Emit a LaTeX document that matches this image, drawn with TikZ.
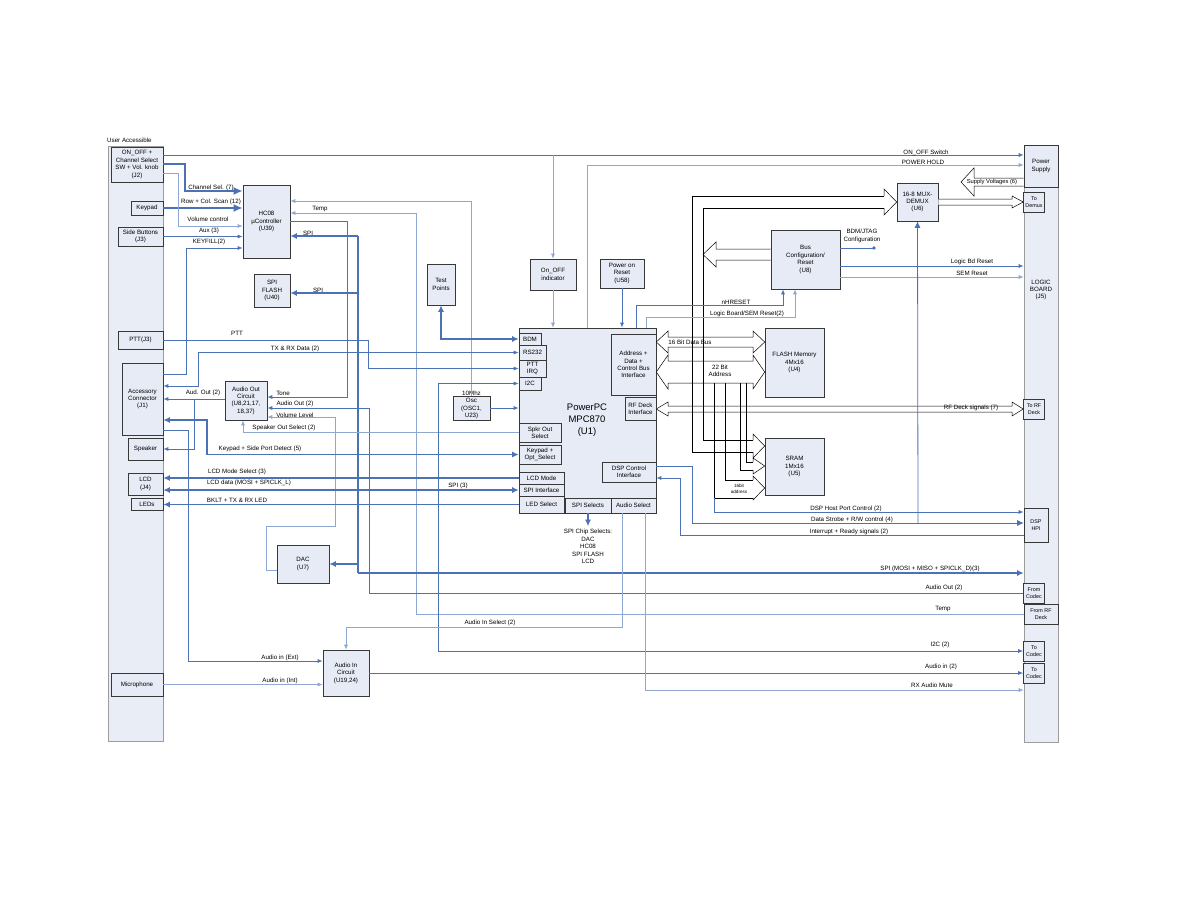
\documentclass[tikz,border=0pt]{standalone}
\usepackage{fontspec}
\setmainfont{Liberation Sans}
\usepackage{tikz}
\usetikzlibrary{arrows.meta}
\definecolor{sigdark}{HTML}{4A72B5}
\definecolor{siglight}{HTML}{8EA7D3}
\definecolor{boxfill}{HTML}{E6EBF5}
\definecolor{panelfill}{HTML}{E9EDF6}
\definecolor{edge}{HTML}{383838}
\definecolor{paneledge}{HTML}{9C9C9C}

\begin{document}
\begin{tikzpicture}[x=1pt,y=-1pt,
  every node/.style={font=\fontsize{6.2}{7.4}\selectfont},
  blk/.style={draw=edge,fill=boxfill,line width=0.6pt,align=center,inner sep=0pt},
  port/.style={blk,font=\fontsize{5.4}{6.8}\selectfont},
  panel/.style={draw=paneledge,fill=panelfill,line width=0.6pt,inner sep=0pt},
  lbl/.style={inner sep=0pt,align=center},
  sig/.style={draw=sigdark,line width=0.8pt},
  lsig/.style={draw=siglight,line width=0.7pt},
  bus/.style={draw=sigdark,line width=1.5pt},
  fat/.style={draw=sigdark,line width=2.8pt},
  hollow/.style={draw=black,line width=0.5pt,fill=white},
  busline/.style={draw=black,line width=0.5pt},
  tip/.style={-{Latex[length=5pt,width=4pt]}},
  tips/.style={{Latex[length=5pt,width=4pt]}-{Latex[length=5pt,width=4pt]}},
  midtip/.style={-{Latex[length=6.5pt,width=6pt]}},
  midtips/.style={{Latex[length=6.5pt,width=6pt]}-{Latex[length=6.5pt,width=6pt]}},
  bigtip/.style={-{Latex[length=9pt,width=8pt]}},
]
\fill[white] (0,0) rectangle (1188,918);
\useasboundingbox (0,0) rectangle (1188,918);

% user side
\node[panel,minimum width=55,minimum height=595] (userpanel) at (135.5,443.5) {};
\node[lbl,anchor=west] (useracc) at (107,140) {User Accessible};
\node[blk,minimum width=52,minimum height=35] (j2) at (137,164.5) {ON\_OFF +\\Channel Select\\SW + Vol. knob\\(J2)};
\node[blk,minimum width=32,minimum height=14] (keypad) at (147,208) {Keypad};
\node[blk,minimum width=45,minimum height=19] (side) at (140.5,236.5) {Side Buttons\\(J3)};
\node[blk,minimum width=45,minimum height=18] (ptt) at (140.5,340) {PTT(J3)};
\node[blk,minimum width=41,minimum height=72] (acc) at (142.5,399) {Accessory\\Connector\\(J1)};
\node[blk,minimum width=35,minimum height=22] (spk) at (145.5,449) {Speaker};
\node[blk,minimum width=35,minimum height=22] (lcd) at (145.5,484) {LCD\\(J4)};
\node[blk,minimum width=32,minimum height=12] (leds) at (147,504) {LEDs};
\node[blk,minimum width=52,minimum height=23] (mic) at (137,684.5) {Microphone};

% logic board side
\node[panel,minimum width=34,minimum height=597] (logicpanel) at (1041,443.5) {};
\node[blk,minimum width=34,minimum height=42] (psu) at (1041,166) {Power\\Supply};
\node[port,minimum width=21,minimum height=20] (todemux) at (1034,202) {To\\Demux};
\node[lbl] (logictxt) at (1041,290) {LOGIC\\BOARD\\(J5)};
\node[port,minimum width=21,minimum height=20] (torf) at (1034,409) {To RF\\Deck};
\node[port,minimum width=24,minimum height=34] (dsphpi) at (1036,525) {DSP\\HPI};
\node[port,minimum width=21,minimum height=20] (fromcodec) at (1034,593) {From\\Codec};
\node[port,minimum width=34,minimum height=20] (fromrf) at (1041,614) {From RF\\Deck};
\node[port,minimum width=21,minimum height=20] (tocodeca) at (1034,651) {To\\Codec};
\node[port,minimum width=21,minimum height=20] (tocodecb) at (1034,673) {To\\Codec};

% blocks
\node[blk,minimum width=47,minimum height=73] (hc08) at (266.5,221.5) {HC08\\µController\\(U39)};
\node[blk,minimum width=36,minimum height=33] (spiflash) at (272,290.5) {SPI\\FLASH\\(U40)};
\node[blk,minimum width=28,minimum height=41] (testpts) at (441,284.5) {Test\\Points};
\node[blk,minimum width=46,minimum height=31] (onoff) at (553,274.5) {On\_OFF\\indicator};
\node[blk,minimum width=44,minimum height=29] (por) at (622,273.5) {Power on\\Reset\\(U58)};
\node[blk,minimum width=41,minimum height=38] (mux) at (917.5,202) {16-8 MUX-\\DEMUX\\(U6)};
\node[blk,minimum width=69,minimum height=59] (buscfg) at (805.5,259.5) {Bus\\Configuration/\\Reset\\(U8)};
\node[blk,minimum width=59,minimum height=69] (flash) at (794.5,362.5) {FLASH Memory\\4Mx16\\(U4)};
\node[blk,minimum width=59,minimum height=57] (sram) at (794.5,466.5) {SRAM\\1Mx16\\(U5)};
\node[blk,minimum width=42,minimum height=39] (audout) at (246,400.5) {Audio Out\\Circuit\\(U8,21,17,\\18,37)};
\node[blk,minimum width=52,minimum height=38] (dac) at (303,564) {DAC\\(U7)};
\node[blk,minimum width=46,minimum height=46] (audin) at (346,673) {Audio In\\Circuit\\(U19,24)};
\node[blk,minimum width=37,minimum height=24] (osc) at (471.5,408) {};
\node[lbl] (osctxt) at (471.5,405) {10Mhz\\Osc\\(OSC1,\\U23)};

% PowerPC and its interfaces
\node[blk,minimum width=137,minimum height=185] (ppc) at (587.5,420.5) {};
\node[lbl,font=\fontsize{9.5}{12}\selectfont] (ppctitle) at (587,420) {PowerPC\\MPC870\\(U1)};
\node[blk,minimum width=22,minimum height=12] (bdm) at (530,339) {BDM};
\node[blk,minimum width=27,minimum height=15] (rs232) at (532.5,352.5) {RS232};
\node[blk,minimum width=27,minimum height=17] (pttirq) at (532.5,368.5) {PTT\\IRQ};
\node[blk,minimum width=22,minimum height=13] (i2c) at (530,383.5) {I2C};
\node[blk,minimum width=42,minimum height=19] (spkr) at (540,432.5) {Spkr Out\\Select};
\node[blk,minimum width=42,minimum height=19] (kpad) at (540,454.5) {Keypad +\\Opt\_Select};
\node[blk,minimum width=45,minimum height=12] (lcdmode) at (541.5,478) {LCD Mode};
\node[blk,minimum width=45,minimum height=12] (spiif) at (541.5,490) {SPI Interface};
\node[blk,minimum width=45,minimum height=17] (ledsel) at (541.5,504.5) {LED Select};
\node[blk,minimum width=46,minimum height=15] (spisel) at (588,505.5) {SPI Selects};
\node[blk,minimum width=45,minimum height=15] (audsel) at (633.5,505.5) {Audio Select};
\node[blk,minimum width=54,minimum height=20] (dspctl) at (629,472) {DSP Control\\Interface};
\node[blk,minimum width=31,minimum height=23] (rfif) at (640.5,408.5) {RF Deck\\Interface};
\node[blk,minimum width=45,minimum height=61] (busif) at (633.5,364.5) {Address +\\Data +\\Control Bus\\Interface};
\node[lbl] (cslist) at (588,546.5) {SPI Chip Selects:\\DAC\\HC08\\SPI FLASH\\LCD};

% wide buses
\draw[hollow] (668,337) -- (753,337) -- (753,331) -- (flash.west |- 0,342) -- (753,353) -- (753,347)
  -- (668,347) -- (668,353) -- (busif.east |- 0,342) -- (668,331) -- cycle;
\draw[hollow] (668,361) -- (753,361) -- (753,355) -- (flash.west |- 0,372) -- (753,389) -- (753,383)
  -- (668,383) -- (668,389) -- (busif.east |- 0,372) -- (668,355) -- cycle;
\draw[hollow] (668,406) -- (1012,406) -- (1012,402) -- (torf.west) -- (1012,416) -- (1012,412)
  -- (668,412) -- (668,416) -- (rfif.east |- 0,409) -- (668,402) -- cycle;
\draw[hollow] (psu.west |- 0,178) -- (974,178) -- (974,168) -- (961,182) -- (974,196) -- (974,186) -- (psu.west |- 0,186);
\draw[hollow] (mux.east |- 0,199) -- (1012,199) -- (1012,196) -- (todemux.west) -- (1012,208) -- (1012,205) -- (mux.east |- 0,205);
\draw[hollow] (buscfg.west |- 0,249) -- (716,249) -- (716,242) -- (703,254.5) -- (716,267) -- (716,260) -- (buscfg.west |- 0,260);
\draw[busline] (884,196) -- (692,196) -- (692,452) -- (753,452);
\draw[busline] (884,208) -- (703,208) -- (703,440) -- (753,440);
\draw[hollow] (884,196) -- (884,189) -- (mux.west) -- (884,215) -- (884,208);
\draw[hollow] (753,440) -- (753,434) -- (sram.west |- 0,446) -- (753,458) -- (753,452);
\draw[busline] (740,383) -- (740,470) -- (753,470);
\draw[busline] (746,383) -- (746,462) -- (753,462);
\draw[hollow] (753,462) -- (753,458) -- (sram.west |- 0,466) -- (753,474) -- (753,470);
\draw[busline] (714,383) -- (714,498) -- (753,498);
\draw[busline] (725,383) -- (725,480) -- (753,480);
\draw[hollow] (753,480) -- (753,476) -- (sram.west |- 0,488) -- (753,500) -- (753,498);
\node[lbl] (databus) at (690,342) {16 Bit Data Bus};
\node[lbl] (addrbus) at (720,371) {22 Bit\\Address};
\node[lbl,font=\fontsize{4.6}{5.4}\selectfont] (addr16) at (739,489) {16bit\\address};
\node[lbl] (rfdeck) at (971,408) {RF Deck signals (7)};
\node[lbl,font=\fontsize{5.8}{7}\selectfont] (supply) at (992,182) {Supply Voltages (6)};

% power and reset
\draw[sig,tip] (j2.east |- 0,155) -- (psu.west |- 0,155);
\draw[lsig,tip] (553,155) -- (onoff.north);
\draw[lsig,tip] (ppc.north -| 587,0) -- (587,165) -- (psu.west |- 0,165);
\draw[lsig,tip] (onoff.south) -- (onoff.south |- ppc.north);
\draw[sig,tip] (por.south) -- (por.south |- ppc.north);
\draw[sig,tip] (ppc.north -| 636,0) |- (783,305) -- (buscfg.south -| 783,0);
\draw[lsig,tip] (ppc.north -| 646,0) |- (795,317) -- (buscfg.south -| 795,0);
\draw[sig,tip] (buscfg.east |- 0,266) -- (logicpanel.west |- 0,266);
\draw[lsig,tip] (buscfg.east |- 0,277) -- (logicpanel.west |- 0,277);
\coordinate (jtagdot) at (874,248);
\draw[sig] (buscfg.east |- 0,248) -- (jtagdot);
\fill[sigdark] (jtagdot) circle (1.8);
\node[lbl] (onofflbl) at (926,153) {ON\_OFF Switch};
\node[lbl] (holdlbl) at (923,162) {POWER HOLD};
\node[lbl] (jtaglbl) at (862,236) {BDM/JTAG\\Configuration};
\node[lbl] (bdreslbl) at (972,262) {Logic Bd Reset};
\node[lbl] (semlbl) at (972,273) {SEM Reset};
\node[lbl] (hreslbl) at (736,302) {nHRESET};
\node[lbl] (lbsemlbl) at (747,314) {Logic Board/SEM Reset(2)};

% HC08 inputs
\draw[fat,bigtip] (j2.east |- 0,164) -| (185,191) -- (hc08.west |- 0,191);
\draw[fat,bigtip] (keypad.east) -- (hc08.west |- keypad.east);
\draw[lsig,tip] (j2.east |- 0,173) -| (178,226) -- (hc08.west |- 0,226);
\draw[sig,tip] (side.east) -- (hc08.west |- side.east);
\draw[sig,tip] (acc.east |- 0,374) -| (186,248) -- (hc08.west |- 0,248);
\node[lbl] (chlbl) at (211,188) {Channel Sel. (7)};
\node[lbl] (rowlbl) at (211,202) {Row + Col. Scan (12)};
\node[lbl] (vollbl) at (208,219) {Volume control};
\node[lbl] (auxlbl) at (209,231) {Aux (3)};
\node[lbl] (kflbl) at (209,242) {KEYFILL(2)};

% HC08 right side and SPI
\draw[lsig,tip] (osc.north) |- (hc08.east |- 0,201);
\draw[lsig,tip] (fromrf.west) -- (416,614) |- (hc08.east |- 0,213);
\draw[sig,tip] (hc08.east |- 0,221) -| (347,397) -- (audout.east |- 0,397);
\coordinate (spitop) at (358,236);
\coordinate (spibot) at (358,573);
\draw[bus] (spitop) -- (spibot);
\draw[bus,midtip] (spitop) -- (hc08.east |- spitop);
\draw[bus,midtip] (358,293) -- (spiflash.east |- 0,293);
\draw[bus,midtip] (358,564) -- (dac.east |- 0,564);
\draw[bus,midtip] (spibot) -- (logicpanel.west |- spibot);
\node[lbl] (templbl) at (320,209) {Temp};
\node[lbl] (spilbla) at (308,233) {SPI};
\node[lbl] (spilblb) at (318,290) {SPI};
\node[lbl] (spimlbl) at (930,569) {SPI (MOSI + MISO + SPICLK\_D)(3)};
\node[lbl] (temprlbl) at (943,609) {Temp};

% audio out
\draw[sig,tip] (audout.west |- 0,399) -- (acc.east |- 0,399);
\draw[sig,tip] (194,399) |- (spk.east);
\draw[sig,tip] (fromcodec.west) -- (369,593) |- (audout.east |- 0,408);
\draw[lsig,tip] (dac.west |- 0,570) -- (266,570) -- (266,526) -- (335,526) -- (335,417) -- (audout.east |- 0,417);
\draw[lsig,tip] (spkr.west) -| ([xshift=-3pt]audout.south);
\node[lbl] (audolbl) at (203,393) {Aud. Out (2)};
\node[lbl] (tonelbl) at (283,393) {Tone};
\node[lbl] (aoutlbl) at (295,404) {Audio Out (2)};
\node[lbl] (vlvllbl) at (295,415) {Volume Level};
\node[lbl] (spklbl) at (284,428) {Speaker Out Select (2)};
\node[lbl] (aoutrlbl) at (944,588) {Audio Out (2)};

% PowerPC left side
\draw[bus,midtips] (bdm.west) -| (testpts.south);
\draw[sig,tips] (rs232.west) -- (198,352.5) |- (acc.east |- 0,386);
\draw[sig,tip] (ptt.east) -- (368,340) |- (pttirq.west);
\draw[sig,tips] (i2c.west) -| (438,651) -- (tocodeca.west);
\draw[sig,tip] (osc.east) -- (ppc.west |- osc.east);
\draw[bus,midtips] (kpad.west) -- (207,454.5) |- (acc.east |- 0,420);
\draw[bus,midtip] (lcdmode.west) -- (lcd.east |- lcdmode.west);
\draw[bus,midtips] (spiif.west) -- (lcd.east |- spiif.west);
\draw[bus,midtip] (ledsel.west) -- (leds.east |- ledsel.west);
\draw[bus,midtip] (spisel.south) -- ([yshift=3pt]cslist.north);
\node[lbl] (pttlbl) at (237,333) {PTT};
\node[lbl] (txrxlbl) at (295,349) {TX \& RX Data (2)};
\node[lbl] (kspdlbl) at (260,449) {Keypad + Side Port Detect (5)};
\node[lbl] (lcdmlbl) at (237,472) {LCD Mode Select (3)};
\node[lbl] (lcddlbl) at (249,483) {LCD data (MOSI + SPICLK\_L)};
\node[lbl] (spi3lbl) at (458,486) {SPI (3)};
\node[lbl] (bkltlbl) at (237,500) {BKLT + TX \& RX LED};
\node[lbl] (i2clbl) at (940,645) {I2C (2)};

% audio in
\draw[sig,tip] (acc.east |- 0,430) -| (188,661) -- (audin.west |- 0,661);
\draw[lsig,tip] (mic.east) -- (audin.west |- mic.east);
\draw[lsig,tip] (audsel.south -| 622,0) -- (622,627) -| (audin.north);
\draw[sig,tip] (audin.east) -- (tocodecb.west);
\draw[lsig,tip] (audsel.south -| 645,0) |- (logicpanel.west |- 0,690);
\node[lbl] (aextlbl) at (280,658) {Audio in (Ext)};
\node[lbl] (aintlbl) at (280,681) {Audio in (Int)};
\node[lbl] (aisellbl) at (490,623) {Audio In Select (2)};
\node[lbl] (ain2lbl) at (941,667) {Audio in (2)};
\node[lbl] (mutelbl) at (932,685) {RX Audio Mute};

% DSP host port
\draw[sig,tip] (dsphpi.west |- 0,535) -- (680,535) |- (dspctl.east |- 0,478);
\draw[sig,midtip] (dspctl.east |- 0,466) -| (692,523) -- (dsphpi.west |- 0,523);
\draw[sig,midtip] (918,523) -- (mux.south);
\draw[sig,tip] (714,498) -- (714,512) -- (dsphpi.west |- 0,512);
\node[lbl] (hostlbl) at (846,509) {DSP Host Port Control (2)};
\node[lbl] (strblbl) at (852,520) {Data Strobe + R/W control (4)};
\node[lbl] (intlbl) at (849,532) {Interrupt + Ready signals (2)};
\end{tikzpicture}
\end{document}
